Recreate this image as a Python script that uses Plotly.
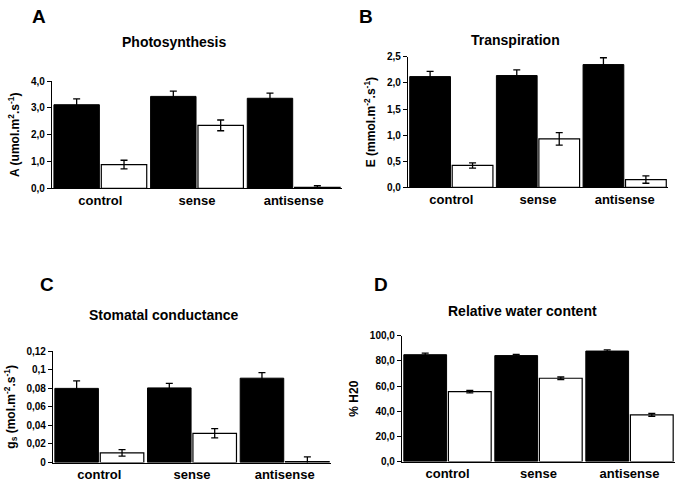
import plotly.graph_objects as go

categories = ["control", "sense", "antisense"]

# Panel A: Photosynthesis
A_black = [3.12, 3.43, 3.36]
A_black_err = [0.22, 0.20, 0.19]
A_white = [0.89, 2.35, 0.04]
A_white_err = [0.16, 0.20, 0.06]

# Panel B: Transpiration
B_black = [2.12, 2.14, 2.35]
B_black_err = [0.10, 0.11, 0.13]
B_white = [0.42, 0.93, 0.15]
B_white_err = [0.05, 0.12, 0.07]

# Panel C: Stomatal conductance
C_black = [0.080, 0.0805, 0.091]
C_black_err = [0.008, 0.005, 0.006]
C_white = [0.0105, 0.0315, 0.001]
C_white_err = [0.0035, 0.005, 0.005]

# Panel D: Relative water content
D_black = [84.9, 84.2, 87.8]
D_black_err = [1.3, 1.0, 1.0]
D_white = [55.6, 66.2, 37.1]
D_white_err = [1.0, 1.0, 1.1]

A_ticks = [0, 1, 2, 3, 4]
A_ticktext = ["0,0", "1,0", "2,0", "3,0", "4,0"]
B_ticks = [0, 0.5, 1, 1.5, 2, 2.5]
B_ticktext = ["0,0", "0,5", "1,0", "1,5", "2,0", "2,5"]
C_ticks = [0, 0.02, 0.04, 0.06, 0.08, 0.1, 0.12]
C_ticktext = ["0", "0,02", "0,04", "0,06", "0,08", "0,1", "0,12"]
D_ticks = [0, 20, 40, 60, 80, 100]
D_ticktext = ["0,0", "20,0", "40,0", "60,0", "80,0", "100,0"]

W, H = 680, 489
FONT = "Liberation Sans, Arial, sans-serif"

panels = [
    dict(black=A_black, berr=A_black_err, white=A_white, werr=A_white_err,
         ticks=A_ticks, ticktext=A_ticktext, yr=[0, 4],
         px=(52, 342), py=(77, 187),
         ytitle="A (umol.m<sup>2</sup>.s<sup>-1</sup>)",
         title="Photosynthesis", tpos=(174, 37), letter="A", lpos=(39, 11)),
    dict(black=B_black, berr=B_black_err, white=B_white, werr=B_white_err,
         ticks=B_ticks, ticktext=B_ticktext, yr=[0, 2.5],
         px=(408, 668), py=(52, 186),
         ytitle="E (mmol.m<sup>-2</sup>.s<sup>-1</sup>)",
         title="Transpiration", tpos=(515, 35), letter="B", lpos=(366, 11)),
    dict(black=C_black, berr=C_black_err, white=C_white, werr=C_white_err,
         ticks=C_ticks, ticktext=C_ticktext, yr=[0, 0.12],
         px=(53, 331), py=(354, 468),
         ytitle="g<sub>s</sub> (mol.m<sup>-2</sup>.s<sup>-1</sup>)",
         title="Stomatal conductance", tpos=(164, 317), letter="C", lpos=(47, 286)),
    dict(black=D_black, berr=D_black_err, white=D_white, werr=D_white_err,
         ticks=D_ticks, ticktext=D_ticktext, yr=[0, 100],
         px=(402, 675), py=(338, 467),
         ytitle="% H20",
         title="Relative water content", tpos=(522, 313), letter="D", lpos=(381, 286)),
]

fig = go.Figure()
annotations = []
layout = {}

for i, p in enumerate(panels):
    n = "" if i == 0 else str(i + 1)
    xa, ya = "x" + n, "y" + n
    xpos_b = [k + 0.255 for k in range(3)]
    xpos_w = [k + 0.745 for k in range(3)]
    fig.add_trace(go.Bar(
        x=xpos_b, y=p["black"], width=0.47, xaxis=xa, yaxis=ya,
        marker=dict(color="black", line=dict(color="black", width=1)),
        error_y=dict(type="data", array=p["berr"], color="black", thickness=1.3, width=3.5),
        showlegend=False))
    fig.add_trace(go.Bar(
        x=xpos_w, y=p["white"], width=0.47, xaxis=xa, yaxis=ya,
        marker=dict(color="white", line=dict(color="black", width=1.2)),
        error_y=dict(type="data", array=p["werr"], color="black", thickness=1.3, width=3.5),
        showlegend=False))
    x0, x1 = p["px"]
    y0, y1 = p["py"]
    layout["xaxis" + n] = dict(
        domain=[x0 / W, x1 / W], range=[0, 3], anchor=ya,
        tickvals=[0.5, 1.5, 2.5], ticktext=["<b>" + c + "</b>" for c in categories],
        ticks="",
        showline=True, linecolor="black", linewidth=1.2, showgrid=False, zeroline=False,
        tickfont=dict(family=FONT, size=13, color="black"), fixedrange=True)
    layout["yaxis" + n] = dict(
        domain=[1 - y1 / H, 1 - y0 / H], range=p["yr"], anchor=xa,
        tickvals=p["ticks"], ticktext=["<b>" + t + "</b>" for t in p["ticktext"]],
        ticks="outside", ticklen=4, tickcolor="black", tickwidth=1,
        showline=True, linecolor="black", linewidth=1.2, showgrid=False, zeroline=False,
        tickfont=dict(family=FONT, size=10, color="black"),
        title=dict(text="<b>" + p["ytitle"] + "</b>", font=dict(family=FONT, size=12, color="black"), standoff=8),
        fixedrange=True)
    annotations.append(dict(
        text="<b>" + p["title"] + "</b>", x=p["tpos"][0] / W, y=1 - p["tpos"][1] / H,
        xref="paper", yref="paper", showarrow=False, xanchor="center", yanchor="middle",
        font=dict(family=FONT, size=14, color="black")))
    annotations.append(dict(
        text="<b>" + p["letter"] + "</b>", x=p["lpos"][0] / W, y=1 - p["lpos"][1] / H,
        xref="paper", yref="paper", showarrow=False, xanchor="center", yanchor="middle",
        font=dict(family=FONT, size=19, color="black")))

fig.update_layout(
    width=W, height=H, margin=dict(l=0, r=0, t=0, b=0),
    paper_bgcolor="white", plot_bgcolor="white",
    annotations=annotations, barmode="overlay",
    font=dict(family=FONT, color="black"),
    **layout)

fig.write_html("out.html", config={"displayModeBar": False},
               post_script="document.body.style.margin='0';document.body.style.overflow='hidden';")
